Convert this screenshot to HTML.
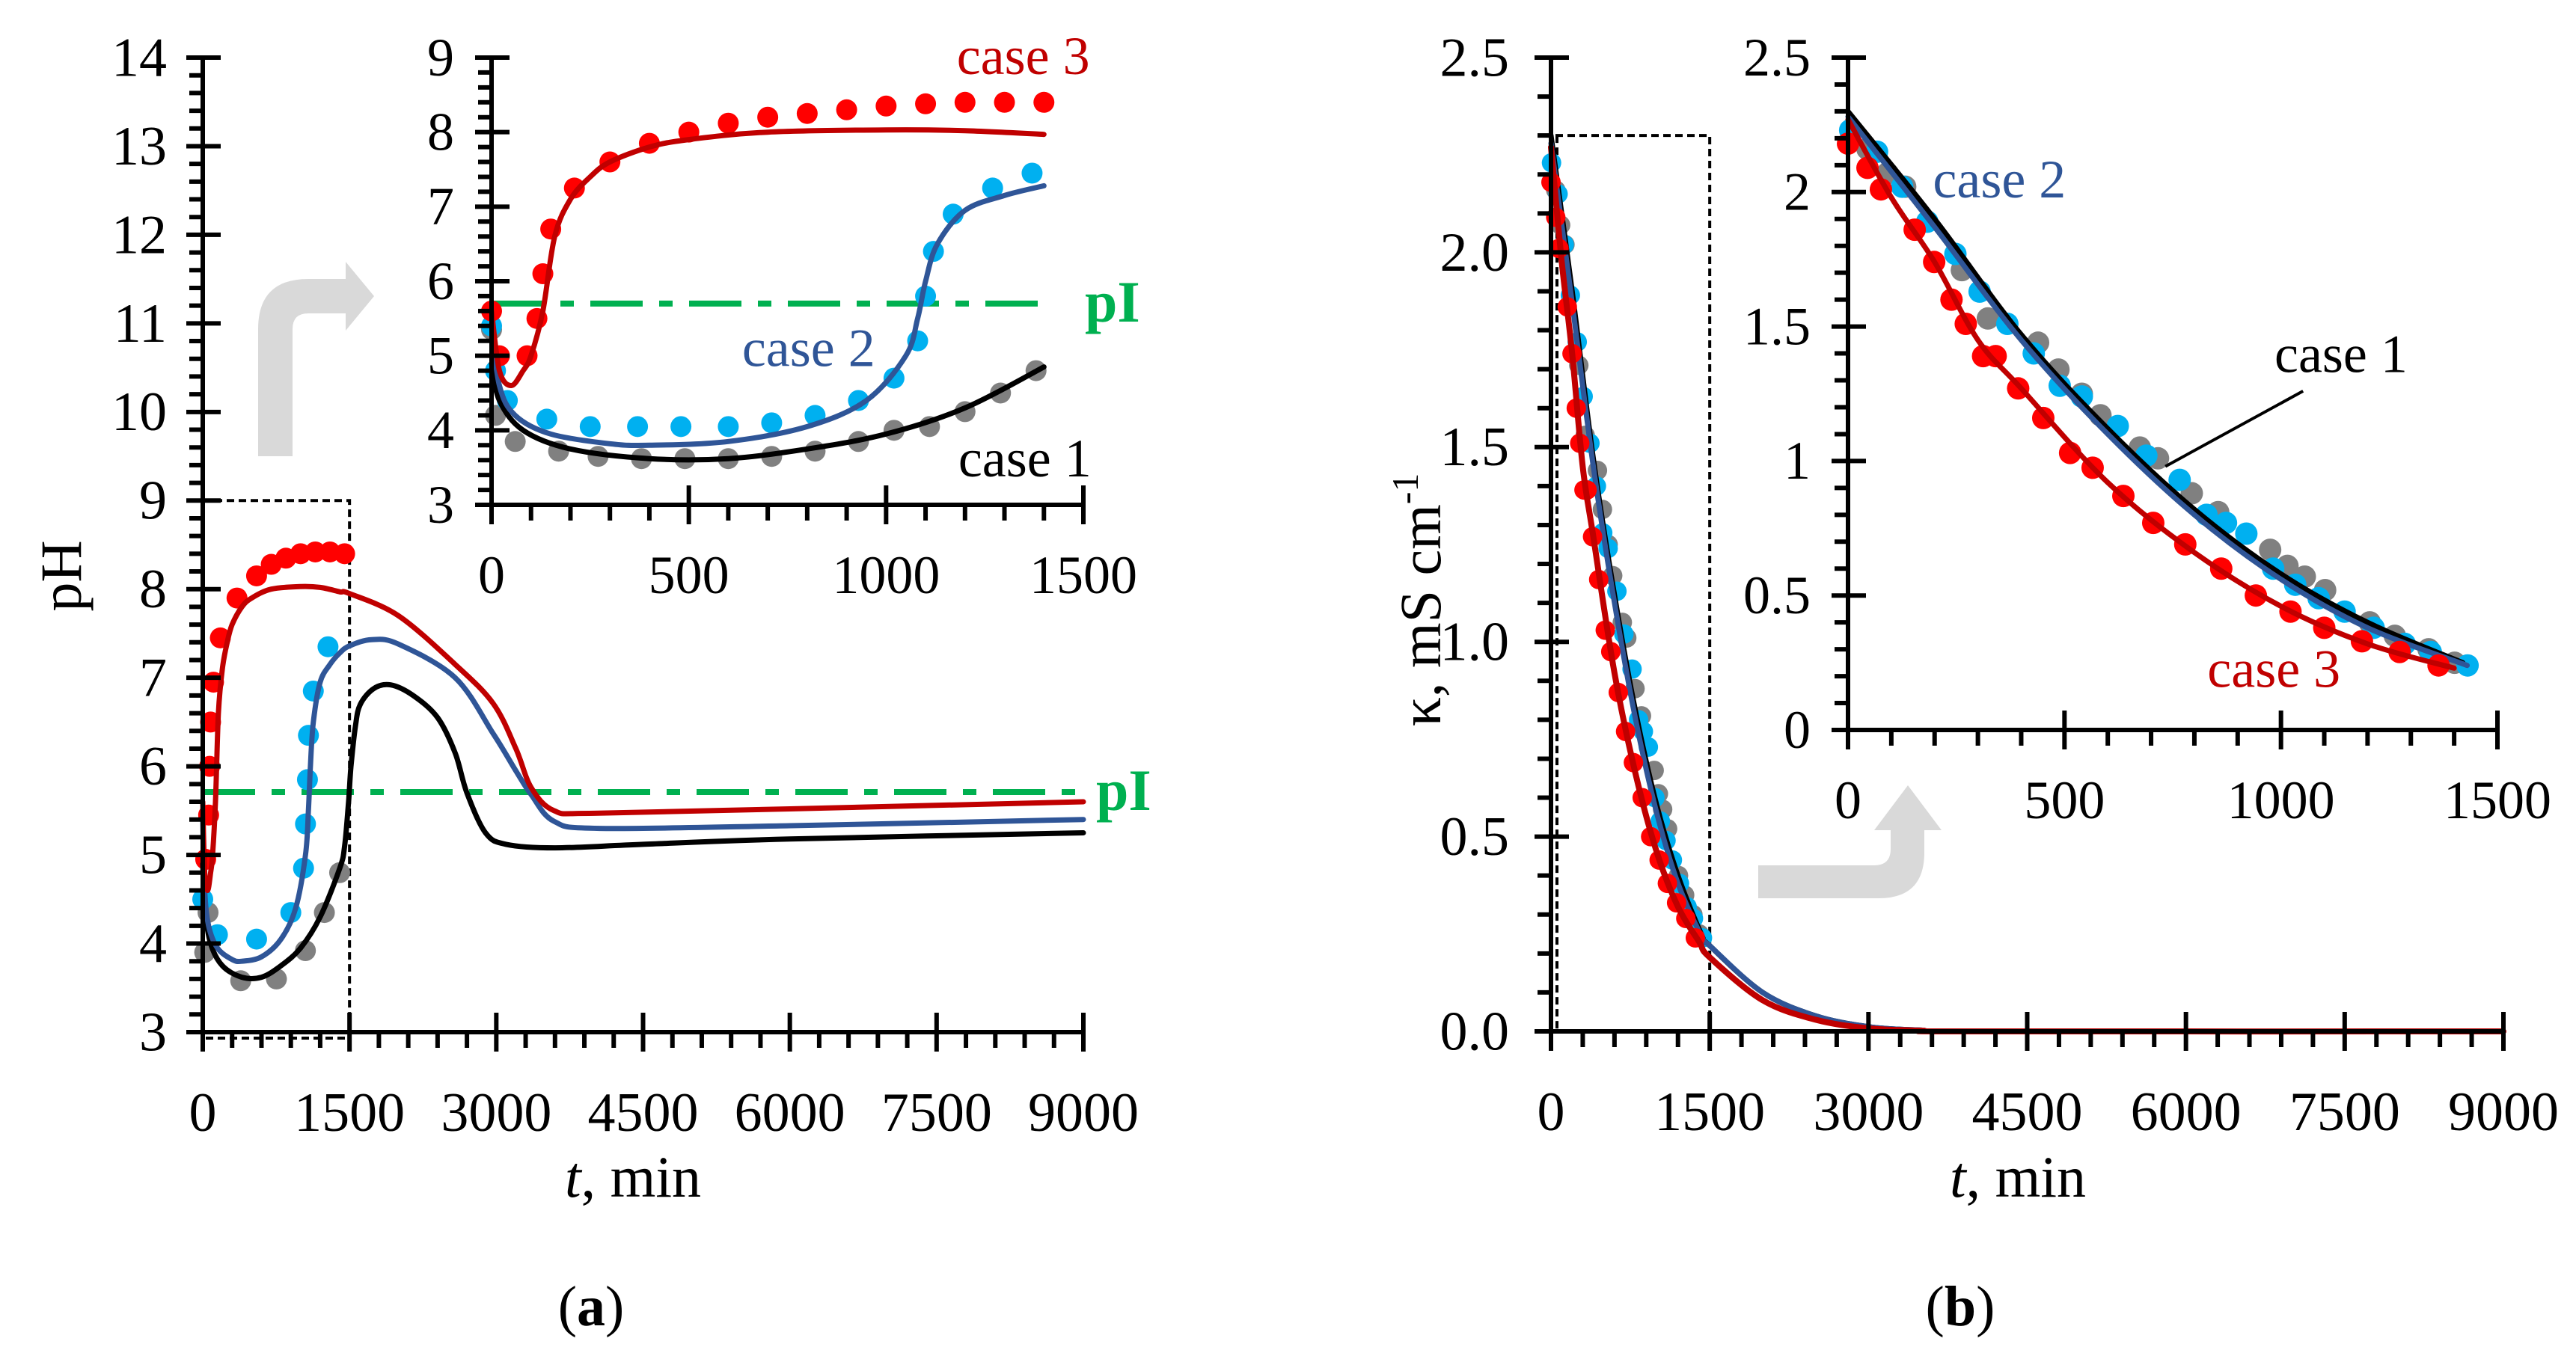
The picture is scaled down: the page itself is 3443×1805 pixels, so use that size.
<!DOCTYPE html>
<html><head><meta charset="utf-8"><style>
html,body{margin:0;padding:0;background:#fff;}
svg{display:block;}
text{font-family:"Liberation Serif",serif;}
</style></head><body>
<svg id="chart" xmlns="http://www.w3.org/2000/svg" width="3443" height="1805" viewBox="0 0 3443 1805">
<rect width="3443" height="1805" fill="#fff"/>
<g id="root"></g>
</svg>
<script>
// ---------- Panel (a) data: pH vs t ----------
const aCase1LineT = [0,20,80,200,400,600,800,1000,1200,1400,1450,1490,1515,1560,1610,1750,1920,2150,2400,2580,2700,2890,3100,3600,4500,6000,9000];
const aCase1LineV = [4.9,4.4,4.0,3.75,3.62,3.62,3.75,3.95,4.3,4.85,5.1,5.6,6.0,6.45,6.7,6.88,6.92,6.8,6.55,6.15,5.7,5.25,5.12,5.08,5.12,5.18,5.25];
const aCase2LineT = [0,20,60,150,300,400,600,800,950,1050,1080,1100,1130,1200,1300,1400,1500,1725,2000,2580,2968,3200,3357,3590,4056,6000,9000];
const aCase2LineV = [5.4,4.6,4.2,3.95,3.82,3.8,3.85,4.05,4.4,5.0,5.5,6.0,6.5,6.95,7.15,7.28,7.36,7.43,7.38,7.0,6.37,5.95,5.68,5.38,5.3,5.33,5.4];
const aCase3LineT = [0,20,50,80,100,130,160,200,250,300,400,500,700,1000,1200,1400,1500,2000,2580,2968,3200,3357,3590,4000,6000,9000];
const aCase3LineV = [5.6,4.8,4.6,4.8,5.0,5.6,6.6,7.1,7.4,7.6,7.8,7.9,8.0,8.03,8.02,7.97,7.95,7.7,7.15,6.71,6.2,5.76,5.5,5.47,5.52,5.6];
// inset points
const aCase1PtsT = [0,10,60,170,270,380,490,600,710,820,930,1020,1110,1200,1290,1380];
const aCase1PtsV = [5.35,4.2,3.85,3.72,3.65,3.62,3.62,3.62,3.65,3.72,3.85,4.0,4.05,4.25,4.5,4.8];
const aCase2PtsT = [0,10,40,140,250,370,480,600,710,820,930,1020,1080,1100,1120,1170,1270,1370];
const aCase2PtsV = [5.4,4.8,4.4,4.15,4.05,4.05,4.05,4.05,4.1,4.2,4.4,4.7,5.2,5.8,6.4,6.9,7.25,7.45];
const aCase3PtsT = [0,20,90,115,130,150,210,300,400,500,600,700,800,900,1000,1100,1200,1300,1400];
const aCase3PtsV = [5.6,5.0,5.0,5.5,6.1,6.7,7.25,7.6,7.85,8.0,8.12,8.2,8.25,8.3,8.35,8.38,8.4,8.4,8.4];
// main-panel points
const aMainCase1PtsT = [20,54,388,753,1049,1243,1399];
const aMainCase1PtsV = [3.9,4.35,3.58,3.6,3.92,4.35,4.8];
const aMainCase2PtsT = [0,150,550,900,1030,1050,1070,1080,1130,1280];
const aMainCase2PtsV = [4.5,4.1,4.05,4.35,4.85,5.35,5.85,6.35,6.85,7.35];
const aMainCase3PtsT = [30,60,70,80,110,180,350,550,700,850,1000,1150,1300,1450];
const aMainCase3PtsV = [4.95,5.45,6.0,6.5,6.95,7.45,7.9,8.15,8.28,8.35,8.4,8.42,8.42,8.4];
const aPI = 5.71;
const aMainXTicks = [0,1500,3000,4500,6000,7500,9000];
const aMainYTicks = [3,4,5,6,7,8,9,10,11,12,13,14];
const aInsetXTicks = [0,500,1000,1500];
const aInsetYTicks = [3,4,5,6,7,8,9];

// ---------- Panel (b) data: conductivity vs t ----------
const bCase1LineT = [0,200,400,600,800,1000,1200,1420,1500,2000,2500,3000,3500,4000,9000];
const bCase1LineV = [2.3,1.9,1.47,1.12,0.82,0.58,0.4,0.25,0.22,0.1,0.04,0.012,0.003,0,0];
const bCase2LineT = [0,200,400,600,800,1000,1200,1430,1500,2000,2500,3000,3500,4000,9000];
const bCase2LineV = [2.28,1.87,1.45,1.1,0.8,0.56,0.38,0.24,0.22,0.1,0.04,0.012,0.003,0,0];
const bCase3LineT = [0,100,200,300,400,600,800,1000,1200,1400,1500,2000,2500,3000,3500,4000,9000];
const bCase3LineV = [2.27,1.98,1.74,1.45,1.27,0.92,0.66,0.46,0.32,0.23,0.19,0.08,0.03,0.008,0.002,0,0];
const bCase1PtsT = [45,91,132,263,323,439,486,540,583,674,716,794,855,975,1015,1055,1102,1205,1263,1341,1401];
const bCase1PtsV = [2.16,2.07,2.02,1.71,1.53,1.44,1.34,1.25,1.17,1.05,1.01,0.88,0.81,0.67,0.61,0.57,0.52,0.40,0.35,0.30,0.25];
const bCase2PtsT = [5,67,125,183,248,304,368,429,489,540,623,689,766,828,873,920,982,1033,1087,1147,1214,1286,1346,1431];
const bCase2PtsV = [2.23,2.15,2.02,1.89,1.77,1.63,1.51,1.40,1.28,1.24,1.13,1.02,0.93,0.80,0.77,0.73,0.60,0.54,0.49,0.44,0.38,0.32,0.29,0.24];
const bCase3PtsT = [0,45,76,154,199,239,272,312,341,393,451,513,565,636,705,779,862,942,1022,1100,1187,1274,1364];
const bCase3PtsV = [2.18,2.09,2.01,1.86,1.74,1.60,1.51,1.39,1.39,1.27,1.16,1.03,0.975,0.87,0.77,0.69,0.60,0.50,0.44,0.38,0.33,0.29,0.24];
const bMainXTicks = [0,1500,3000,4500,6000,7500,9000];
const bMainYTicks = [0,0.5,1.0,1.5,2.0,2.5];
const bMainYLabels = ["0.0","0.5","1.0","1.5","2.0","2.5"];
const bInsetXTicks = [0,500,1000,1500];
const bInsetYTicks = [0,0.5,1,1.5,2,2.5];
const bInsetYLabels = ["0","0.5","1","1.5","2","2.5"];

const NS = "http://www.w3.org/2000/svg";
const root = document.getElementById('root');
function el(tag, attrs, parent, txt){
  const e = document.createElementNS(NS, tag);
  for (const k in attrs) e.setAttribute(k, attrs[k]);
  if (txt !== undefined) e.textContent = txt;
  (parent||root).appendChild(e);
  return e;
}
function axes(px0,px1,xmin,xmax,py0,py1,ymin,ymax){
  return {
    x: v => px0 + (v - xmin) / (xmax - xmin) * (px1 - px0),
    y: v => py0 - (v - ymin) / (ymax - ymin) * (py0 - py1),
    px0, px1, py0, py1, xmin, xmax, ymin, ymax
  };
}
function smoothPath(pts){
  if (pts.length < 2) return "";
  let d = "M" + pts[0][0].toFixed(1) + "," + pts[0][1].toFixed(1);
  for (let i = 0; i < pts.length - 1; i++){
    const p0 = pts[Math.max(0,i-1)], p1 = pts[i], p2 = pts[i+1], p3 = pts[Math.min(pts.length-1,i+2)];
    const c1x = p1[0] + (p2[0]-p0[0])/6, c1y = p1[1] + (p2[1]-p0[1])/6;
    const c2x = p2[0] - (p3[0]-p1[0])/6, c2y = p2[1] - (p3[1]-p1[1])/6;
    d += "C" + c1x.toFixed(1)+","+c1y.toFixed(1)+" "+c2x.toFixed(1)+","+c2y.toFixed(1)+" "+p2[0].toFixed(1)+","+p2[1].toFixed(1);
  }
  return d;
}
function drawLine(ax, T, V, color, w, tmax, name, parent){
  const pts = [];
  for (let i=0;i<T.length;i++){ if (T[i] <= tmax) pts.push([ax.x(T[i]), ax.y(V[i])]); }
  const p = el('path', {d: smoothPath(pts), fill:'none', stroke:color, 'stroke-width':w, 'stroke-linejoin':'round','stroke-linecap':'round'}, parent);
  
  
}
function drawPts(ax, T, V, color, r, name, parent){
  const g = el('g', {}, parent);
  
  
  for (let i=0;i<T.length;i++){
    const c = el('circle', {cx: ax.x(T[i]), cy: ax.y(V[i]), r: r, fill: color}, g);
    
    
  }
}
function drawAxes(ax, opt, name){
  const g = el('g', {stroke:'#000','stroke-width':6,fill:'none'});
  
  
  el('line', {x1:ax.px0-3, y1:ax.py0, x2:ax.px1+3, y2:ax.py0}, g);
  el('line', {x1:ax.px0, y1:ax.py0+3, x2:ax.px0, y2:ax.py1-3}, g);
  for (let v = ax.xmin; v <= ax.xmax + 1e-6; v += opt.xMinor){
    const X = ax.x(v);
    const major = Math.abs((v / opt.xMajor) - Math.round(v / opt.xMajor)) < 1e-6;
    if (major) el('line', {x1:X, y1:ax.py0-26, x2:X, y2:ax.py0+26}, g);
    else el('line', {x1:X, y1:ax.py0, x2:X, y2:ax.py0+21}, g);
  }
  for (let v = ax.ymin; v <= ax.ymax + 1e-6; v += opt.yMinor){
    const Y = ax.y(v);
    const major = Math.abs((v / opt.yMajor) - Math.round(v / opt.yMajor)) < 1e-6;
    if (major) el('line', {x1:ax.px0-22, y1:Y, x2:ax.px0+24, y2:Y}, g);
    else el('line', {x1:ax.px0-18, y1:Y, x2:ax.px0, y2:Y}, g);
  }
  const tg = el('g', {'font-size':opt.fs, fill:'#000'});
  
  
  opt.xTicks.forEach(v => {
    const t = el('text', {x: ax.x(v), y: ax.py0 + opt.xLabDy, 'text-anchor':'middle'}, tg, String(v));
    
    
  });
  opt.yTicks.forEach((v,i) => {
    const t = el('text', {x: ax.px0 - opt.yLabDx, y: ax.y(v) + opt.fs*0.33, 'text-anchor':'end'}, tg, opt.yLabels ? opt.yLabels[i] : String(v));
    
    
  });
}
function pILine(ax, x0v, x1v, v, labelX, name){
  const l = el('line', {x1: ax.x(x0v), y1: ax.y(v), x2: ax.x(x1v), y2: ax.y(v), stroke:'#00b050','stroke-width':8,'stroke-dasharray':'70,22,18,22'});
  
  
  const t = el('text', {x: labelX, y: ax.y(v)+24, fill:'#00b050','font-size':78,'font-weight':'bold'}, undefined, 'pI');
  
  
}
function label(x,y,txt,color,name,anchor){
  const t = el('text', {x:x, y:y, fill:color, 'font-size':72, 'text-anchor':anchor||'start'}, undefined, txt);
  
  
}
function arrow(d, name){
  const p = el('path', {d:d, fill:'#d9d9d9'});
  
  
}

// ================= Panel (a) =================
const aM = axes(271,1448,0,9000,1380,77,3,14);
const aI = axes(657,1448,0,1500,675,77,3,9);

arrow("M345,610 L345,440 Q345,373 412,373 L462,373 L462,350 L500,396 L462,442 L462,419 L412,419 Q391,419 391,440 L391,610 Z", 'zoom-arrow-a');

const boxA = el('path', {d:`M${aM.x(0)},${aM.y(9)} L${aM.x(1500)},${aM.y(9)} L${aM.x(1500)},${aM.y(3)}`, fill:'none', stroke:'#000','stroke-width':4,'stroke-dasharray':'10,6'});


const boxA2 = el('line', {x1:aM.x(0)+4, y1:aM.y(3)+8, x2:aM.x(1500), y2:aM.y(3)+8, stroke:'#000','stroke-width':4,'stroke-dasharray':'10,6'});



pILine(aM, 0, 9080, aPI, 1465, 'pi-line-main-a');
drawPts(aM, aMainCase1PtsT, aMainCase1PtsV, '#808080', 14, 'case1-points-main-a');
drawPts(aM, aMainCase2PtsT, aMainCase2PtsV, '#00b0f0', 14, 'case2-points-main-a');
drawPts(aM, aMainCase3PtsT, aMainCase3PtsV, '#ff0000', 14, 'case3-points-main-a');
drawLine(aM, aCase1LineT, aCase1LineV, '#000', 7, 9000, 'case1-line-main-a');
drawLine(aM, aCase2LineT, aCase2LineV, '#2f5597', 7, 9000, 'case2-line-main-a');
drawLine(aM, aCase3LineT, aCase3LineV, '#c00000', 7, 9000, 'case3-line-main-a');
drawAxes(aM, {xMinor:300,xMajor:1500,yMinor:0.2,yMajor:1,xTicks:aMainXTicks,yTicks:aMainYTicks,fs:74,xLabDy:132,yLabDx:48}, 'axes-main-a');

pILine(aI, 0, 1390, 5.7, 1450, 'pi-line-inset-a');
drawPts(aI, aCase1PtsT, aCase1PtsV, '#808080', 14, 'case1-points-inset-a');
drawPts(aI, aCase2PtsT, aCase2PtsV, '#00b0f0', 14, 'case2-points-inset-a');
drawPts(aI, aCase3PtsT, aCase3PtsV, '#ff0000', 14, 'case3-points-inset-a');
drawLine(aI, aCase1LineT, aCase1LineV, '#000', 7, 1400, 'case1-line-inset-a');
drawLine(aI, aCase2LineT, aCase2LineV, '#2f5597', 7, 1400, 'case2-line-inset-a');
drawLine(aI, aCase3LineT, aCase3LineV, '#c00000', 7, 1400, 'case3-line-inset-a');
drawAxes(aI, {xMinor:100,xMajor:500,yMinor:0.2,yMajor:1,xTicks:aInsetXTicks,yTicks:aInsetYTicks,fs:72,xLabDy:118,yLabDx:50}, 'axes-inset-a');

label(aI.x(1179), aI.y(8.78), 'case 3', '#c00000', 'case3-label-a');
label(aI.x(635), aI.y(4.86), 'case 2', '#2f5597', 'case2-label-a');
label(aI.x(1183), aI.y(3.38), 'case 1', '#000', 'case1-label-a');

const ytA = el('text', {x:0, y:0, 'font-size':78, transform:'translate(108,770) rotate(-90)', 'text-anchor':'middle'}, undefined, 'pH');


const xtA = el('text', {x:846, y:1600, 'font-size':78, 'text-anchor':'middle'});


el('tspan', {'font-style':'italic'}, xtA, 't');
el('tspan', {}, xtA, ', min');
const capA = el('text', {x:790, y:1772, 'font-size':76, 'text-anchor':'middle'});


el('tspan', {}, capA, '(');
el('tspan', {'font-weight':'bold'}, capA, 'a');
el('tspan', {}, capA, ')');

// ================= Panel (b) =================
const bM = axes(2073,3346,0,9000,1379,77,0,2.5);
const bI = axes(2470,3338,0,1500,976,77,0,2.5);

arrow("M2350,1157 L2505,1157 Q2527,1157 2527,1135 L2527,1110 L2505,1110 L2550,1050 L2595,1110 L2572,1110 L2572,1140 Q2572,1201 2511,1201 L2350,1201 Z", 'zoom-arrow-b');

const boxB = el('path', {d:`M${bM.x(0)+6},${bM.y(2.3)} L${bM.x(1500)},${bM.y(2.3)} L${bM.x(1500)},${bM.y(0)}`, fill:'none', stroke:'#000','stroke-width':4,'stroke-dasharray':'10,6'});


const boxB2 = el('line', {x1:bM.x(0)+8, y1:bM.y(2.3), x2:bM.x(0)+8, y2:bM.y(0), stroke:'#000','stroke-width':4,'stroke-dasharray':'10,6'});



drawPts(bM, bCase1PtsT, bCase1PtsV, '#808080', 13, 'case1-points-main-b');
drawPts(bM, bCase2PtsT, bCase2PtsV, '#00b0f0', 13, 'case2-points-main-b');
drawLine(bM, bCase1LineT, bCase1LineV, '#000', 7, 9000, 'case1-line-main-b');
drawLine(bM, bCase2LineT, bCase2LineV, '#2f5597', 7, 9000, 'case2-line-main-b');
drawPts(bM, bCase3PtsT, bCase3PtsV, '#ff0000', 13, 'case3-points-main-b');
drawLine(bM, bCase3LineT, bCase3LineV, '#c00000', 8, 9000, 'case3-line-main-b');
drawAxes(bM, {xMinor:300,xMajor:1500,yMinor:0.1,yMajor:0.5,xTicks:bMainXTicks,yTicks:bMainYTicks,yLabels:bMainYLabels,fs:74,xLabDy:132,yLabDx:56}, 'axes-main-b');

drawPts(bI, bCase1PtsT, bCase1PtsV, '#808080', 15, 'case1-points-inset-b');
drawPts(bI, bCase2PtsT, bCase2PtsV, '#00b0f0', 15, 'case2-points-inset-b');
drawLine(bI, bCase1LineT, bCase1LineV, '#000', 7, 1420, 'case1-line-inset-b');
drawLine(bI, bCase2LineT, bCase2LineV, '#2f5597', 7, 1430, 'case2-line-inset-b');
drawPts(bI, bCase3PtsT, bCase3PtsV, '#ff0000', 15, 'case3-points-inset-b');
drawLine(bI, bCase3LineT, bCase3LineV, '#c00000', 7, 1400, 'case3-line-inset-b');
drawAxes(bI, {xMinor:100,xMajor:500,yMinor:0.1,yMajor:0.5,xTicks:bInsetXTicks,yTicks:bInsetYTicks,yLabels:bInsetYLabels,fs:72,xLabDy:118,yLabDx:50}, 'axes-inset-b');

const lead = el('line', {x1:bI.x(733), y1:bI.y(0.98), x2:bI.x(1051), y2:bI.y(1.26), stroke:'#000','stroke-width':4});


label(bI.x(985), bI.y(1.33), 'case 1', '#000', 'case1-label-b');
label(bI.x(196), bI.y(1.98), 'case 2', '#2f5597', 'case2-label-b');
label(bI.x(830), bI.y(0.16), 'case 3', '#c00000', 'case3-label-b');

const ytB = el('text', {x:0, y:0, 'font-size':78, transform:'translate(1925,802) rotate(-90)', 'text-anchor':'middle'});


el('tspan', {}, ytB, 'κ, mS cm');
el('tspan', {dy:-30, 'font-size':50}, ytB, '-1');
const xtB = el('text', {x:2697, y:1600, 'font-size':78, 'text-anchor':'middle'});


el('tspan', {'font-style':'italic'}, xtB, 't');
el('tspan', {}, xtB, ', min');
const capB = el('text', {x:2620, y:1772, 'font-size':76, 'text-anchor':'middle'});


el('tspan', {}, capB, '(');
el('tspan', {'font-weight':'bold'}, capB, 'b');
el('tspan', {}, capB, ')');
</script>
</body></html>
